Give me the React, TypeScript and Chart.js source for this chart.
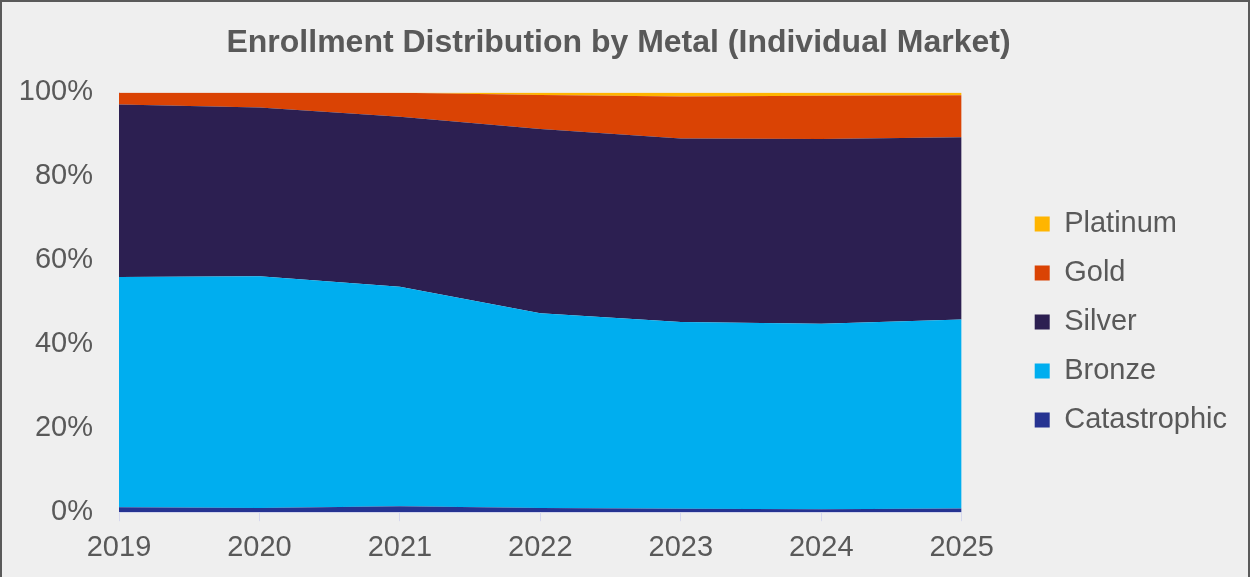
import React, { useEffect, useRef } from "react";
import { Chart, registerables } from "chart.js";

Chart.register(...registerables);

const years = ["2019", "2020", "2021", "2022", "2023", "2024", "2025"];
const catastrophic = [1.2, 1.0, 1.4, 1.0, 0.8, 0.7, 0.9];
const bronze = [54.8, 55.2, 52.3, 46.4, 44.5, 44.2, 45.0];
const silver = [41.1, 40.2, 40.5, 43.9, 43.7, 44.0, 43.4];
const gold = [2.9, 3.6, 5.7, 8.1, 10.0, 10.3, 10.0];
const platinum = [0.0, 0.0, 0.1, 0.6, 1.0, 0.8, 0.7];
const yTicks = [0, 20, 40, 60, 80, 100];

const FONT = "'Liberation Sans', Arial, sans-serif";
const GREY = "#595959";
const AXIS = "#d6d8ee";

export default function App() {
  const ref = useRef<HTMLCanvasElement>(null);

  useEffect(() => {
    document.body.style.margin = "0";
    const ctx = ref.current!;
    const mk = (label: string, data: number[], color: string, fill: string | boolean) => ({
      label,
      data,
      backgroundColor: color,
      borderColor: color,
      borderWidth: 0,
      pointRadius: 0,
      fill,
      tension: 0,
    });
    const chart = new Chart(ctx, {
      type: "line",
      data: {
        labels: years,
        datasets: [
          mk("Catastrophic", catastrophic, "#263391", "origin"),
          mk("Bronze", bronze, "#00aeef", "-1"),
          mk("Silver", silver, "#2c1f51", "-1"),
          mk("Gold", gold, "#da4304", "-1"),
          mk("Platinum", platinum, "#ffb500", "-1"),
        ] as any,
      },
      options: {
        animation: false,
        responsive: false,
        layout: { padding: { left: 0, right: 13, top: 0, bottom: 3 } },
        plugins: {
          title: {
            display: true,
            text: "Enrollment Distribution by Metal (Individual Market)",
            color: GREY,
            font: { family: FONT, size: 32, weight: "bold" },
            padding: { top: 24, bottom: 30 },
          },
          legend: {
            position: "right",
            reverse: true,
            title: { display: true, text: "", font: { size: 10 }, padding: { top: 0, bottom: 58 } },
            labels: {
              color: GREY,
              font: { family: FONT, size: 29 },
              boxWidth: 15,
              boxHeight: 15,
              padding: 20,
            },
          },
          tooltip: { enabled: false },
        },
        scales: {
          x: {
            grid: {
              display: true,
              drawOnChartArea: false,
              drawTicks: true,
              tickLength: 9,
              color: AXIS,
            },
            border: { display: true, color: AXIS, width: 1 },
            ticks: { color: GREY, font: { family: FONT, size: 29 }, padding: 9, maxRotation: 0 },
          },
          y: {
            stacked: true,
            min: 0,
            max: 100,
            grid: { display: false },
            border: { display: true, color: AXIS, width: 1 },
            afterBuildTicks: (s: any) => {
              s.ticks = yTicks.map((v) => ({ value: v }));
            },
            afterFit: (s: any) => {
              s.width = 119;
            },
            ticks: {
              color: GREY,
              font: { family: FONT, size: 29 },
              padding: 18,
              callback: (v: any) => v + "%",
            },
          },
          y2: {
            position: "right",
            display: false,
            afterFit: (s: any) => {
              s.width = 53;
            },
          },
        },
      } as any,
    });
    return () => chart.destroy();
  }, []);

  return (
    <div style={{ position: "relative", width: 1250, height: 577, background: "#efefef", overflow: "hidden" }}>
      <canvas ref={ref} width={1250} height={577} style={{ position: "absolute", left: 0, top: 0 }} />
      <div
        style={{
          position: "absolute",
          left: 0,
          top: 0,
          width: 1250,
          height: 577,
          boxSizing: "border-box",
          borderTop: "2px solid #5a5a5a",
          borderLeft: "2px solid #5a5a5a",
          borderRight: "2px solid #5a5a5a",
          pointerEvents: "none",
        }}
      />
    </div>
  );
}
